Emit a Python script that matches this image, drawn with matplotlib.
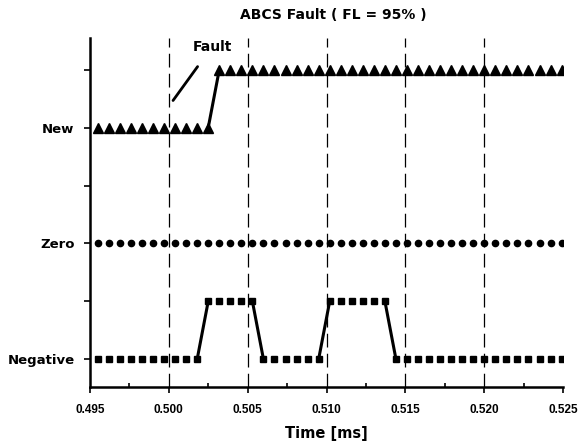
import matplotlib
matplotlib.use('Agg')
import matplotlib.pyplot as plt
from matplotlib.ticker import MultipleLocator

plt.rcParams['font.family'] = ['DejaVu Sans']
plt.rcParams['font.weight'] = 'bold'

# sample times (ms)
t = [0.4955, 0.4962, 0.4969, 0.4976, 0.4983, 0.4990, 0.4997, 0.5004,
     0.5011, 0.5018, 0.5025, 0.5032, 0.5039, 0.5046, 0.5053, 0.5060,
     0.5067, 0.5074, 0.5081, 0.5088, 0.5095, 0.5102, 0.5109, 0.5116,
     0.5123, 0.5130, 0.5137, 0.5144, 0.5151, 0.5158, 0.5165, 0.5172,
     0.5179, 0.5186, 0.5193, 0.5200, 0.5207, 0.5214, 0.5221, 0.5228,
     0.5235, 0.5242, 0.5249]

# state levels: 1 = Negative, 3 = Zero, 5 = New
new_seq = [5, 5, 5, 5, 5, 5, 5, 5, 5, 5, 5, 6, 6, 6, 6, 6,
           6, 6, 6, 6, 6, 6, 6, 6, 6, 6, 6, 6, 6, 6, 6, 6,
           6, 6, 6, 6, 6, 6, 6, 6, 6, 6, 6]
zero_seq = [3] * 43
neg_seq = [1, 1, 1, 1, 1, 1, 1, 1, 1, 1, 2, 2, 2, 2, 2, 1,
           1, 1, 1, 1, 1, 2, 2, 2, 2, 2, 2, 1, 1, 1, 1, 1,
           1, 1, 1, 1, 1, 1, 1, 1, 1, 1, 1]

ytick_pos = [1, 2, 3, 4, 5, 6]
ytick_lbl = ['Negative', '', 'Zero', '', 'New', '']
grid_x = [0.500, 0.505, 0.510, 0.515, 0.520]

fig = plt.figure(figsize=(5.8, 4.42), dpi=100)
ax = fig.add_axes([0.155, 0.124, 0.816, 0.790])

for gx in grid_x:
    ax.axvline(gx, color='black', lw=0.9, ls=(0, (11, 5)), zorder=1)


def draw_state(vals, mk, size):
    # markers only on the flat parts, solid line where the state changes
    ax.plot(t, vals, ls='none', color='black', marker=mk, ms=size, zorder=3)
    for i in range(len(t) - 1):
        if vals[i] != vals[i + 1]:
            ax.plot([t[i], t[i + 1]], [vals[i], vals[i + 1]],
                    color='black', lw=2.2, zorder=3)


draw_state(new_seq, '^', 6.5)
draw_state(zero_seq, 'o', 4.5)
draw_state(neg_seq, 's', 4.5)

ax.annotate('Fault', xy=(0.50027, 5.47), xytext=(0.50274, 6.40),
            ha='center', va='center', fontsize=10, fontweight='bold',
            arrowprops=dict(arrowstyle='-', color='black', lw=2,
                            shrinkA=9, shrinkB=0))

ax.set_xlim(0.495, 0.525)
ax.set_ylim(0.515, 6.55)
ax.xaxis.set_major_locator(MultipleLocator(0.005))
ax.xaxis.set_minor_locator(MultipleLocator(0.0025))
ax.set_xticklabels(['%.3f' % v for v in ax.get_xticks()],
                   family='Liberation Sans', fontweight='bold')
ax.set_yticks(ytick_pos)
ax.set_yticklabels(ytick_lbl)

ax.tick_params(axis='x', which='major', direction='out', length=4, width=1.2,
               labelsize=8.5, pad=8)
ax.tick_params(axis='x', which='minor', direction='in', length=3, width=1.2)
ax.tick_params(axis='y', direction='out', length=4, width=1.2,
               labelsize=9.5, pad=7)

for s in ['top', 'right']:
    ax.spines[s].set_visible(False)
for s in ['left', 'bottom']:
    ax.spines[s].set_linewidth(1.8)

ax.set_xlabel('Time [ms]', fontsize=10.5, fontweight='bold', labelpad=7)
fig.text(0.575, 0.965, 'ABCS Fault ( FL = 95% )', ha='center', va='center',
         fontsize=10, fontweight='bold')

fig.savefig('out.png', dpi=100)
